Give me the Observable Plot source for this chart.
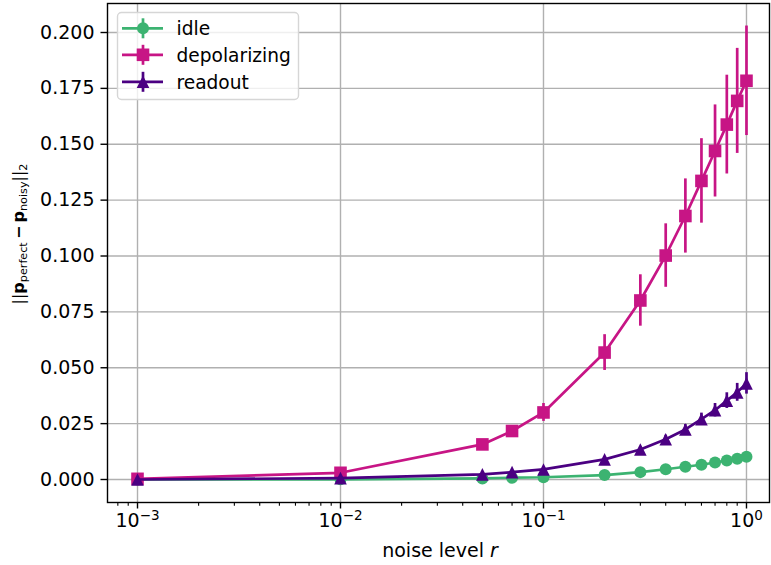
<!DOCTYPE html>
<html>
<head>
<meta charset="utf-8">
<script src="https://cdn.jsdelivr.net/npm/d3@7"></script>
<script src="https://cdn.jsdelivr.net/npm/@observablehq/plot@0.6"></script>
<style>
  body { margin: 0; background: #fff; }
  #chart { width: 771px; height: 565px; }
</style>
</head>
<body>
<div id="chart"></div>
<script>
// ---- data ----
const noiseLevels = [0.001, 0.01, 0.05, 0.07, 0.1, 0.2, 0.3, 0.4, 0.5, 0.6, 0.7, 0.8, 0.9, 1.0];
const seriesNames = ["idle", "depolarizing", "readout"];
const idleMeans = [0.0000, 0.0001, 0.0005, 0.0008, 0.0010, 0.0020, 0.0033, 0.0046, 0.0057, 0.0066, 0.0076, 0.0085, 0.0093, 0.0102];
const idleErrors = [0, 0, 0.0001, 0.0001, 0.0001, 0.0002, 0.0003, 0.0004, 0.0005, 0.0005, 0.0006, 0.0007, 0.0008, 0.0009];
const depolarizingMeans = [0.0003, 0.0030, 0.0157, 0.0217, 0.0300, 0.0568, 0.0801, 0.1002, 0.1179, 0.1336, 0.1470, 0.1588, 0.1694, 0.1784];
const depolarizingErrors = [0.0001, 0.0004, 0.0010, 0.0018, 0.0040, 0.0080, 0.0115, 0.0142, 0.0166, 0.0189, 0.0206, 0.0221, 0.0235, 0.0245];
const readoutMeans = [0.0000, 0.0006, 0.0023, 0.0033, 0.0045, 0.0090, 0.0134, 0.0180, 0.0224, 0.0270, 0.0310, 0.0353, 0.0390, 0.0430];
const readoutErrors = [0, 0.0001, 0.0004, 0.0005, 0.0007, 0.0010, 0.0014, 0.0018, 0.0022, 0.0027, 0.0030, 0.0035, 0.0040, 0.0048];
const xMajorTicks = [0.001, 0.01, 0.1, 1];
const yTicks = [0, 0.025, 0.05, 0.075, 0.1, 0.125, 0.15, 0.175, 0.2];

// ---- symbols (matplotlib-like) ----
const mplSquare = { draw(ctx, size) { const h = Math.sqrt(size / Math.PI); ctx.rect(-h, -h, 2 * h, 2 * h); } };
const mplTriangle = { draw(ctx, size) { const h = Math.sqrt(size / Math.PI); ctx.moveTo(0, -h); ctx.lineTo(h, h); ctx.lineTo(-h, h); ctx.closePath(); } };

const series = [
  { name: seriesNames[0], means: idleMeans, errors: idleErrors, color: "#3cb371", symbol: "circle", r: 6 },
  { name: seriesNames[1], means: depolarizingMeans, errors: depolarizingErrors, color: "#c71585", symbol: mplSquare, r: 6.3 },
  { name: seriesNames[2], means: readoutMeans, errors: readoutErrors, color: "#4b0082", symbol: mplTriangle, r: 6.3 }
];

const minorTicks = [];
for (const base of [0.0001, 0.001, 0.01, 0.1]) for (let k = 2; k <= 9; k++) minorTicks.push(base * k);
const xDomain = [7.115e-4, 1.2983];
const visibleMinor = minorTicks.filter(t => t >= xDomain[0] && t <= xDomain[1]);

const FS = 19;
const lw = 2.7;
const marks = [
  Plot.gridX(xMajorTicks, { stroke: "#b0b0b0", strokeOpacity: 1, strokeWidth: 1.4 }),
  Plot.gridY(yTicks, { stroke: "#b0b0b0", strokeOpacity: 1, strokeWidth: 1.4 })
];
for (const s of series) {
  const rows = noiseLevels.map((x, i) => ({ x, y: s.means[i], e: s.errors[i] }));
  marks.push(Plot.ruleX(rows, { x: "x", y1: d => d.y - d.e, y2: d => d.y + d.e, stroke: s.color, strokeWidth: lw }));
  marks.push(Plot.line(rows, { x: "x", y: "y", stroke: s.color, strokeWidth: lw }));
  marks.push(Plot.dot(rows, { x: "x", y: "y", fill: s.color, symbol: s.symbol, r: s.r }));
}
marks.push(
  Plot.frame({ stroke: "black", strokeWidth: 1.4 }),
  Plot.axisY(yTicks, { tickSize: 6.5, tickPadding: 6.5, tickFormat: d3.format(".3f"), label: null, fontSize: FS, strokeWidth: 1.4 }),
  Plot.axisX(xMajorTicks, { tickSize: 6.5, tickPadding: 4.5, tickFormat: d => "10^" + Math.round(Math.log10(d)), label: null, fontSize: FS, strokeWidth: 1.4 }),
  Plot.axisX(visibleMinor, { tickSize: 3.7, tickFormat: () => "", label: null, strokeWidth: 1.1 })
);

const svg = Plot.plot({
  width: 771,
  height: 565,
  marginLeft: 107,
  marginRight: 2,
  marginTop: 3,
  marginBottom: 63,
  style: { fontFamily: "DejaVu Sans", fontSize: FS + "px", color: "black", background: "white", overflow: "visible" },
  x: { type: "log", domain: xDomain },
  y: { domain: [-0.01029, 0.21298] },
  marks
});
document.getElementById("chart").appendChild(svg);

const root = d3.select(svg);

// superscript tick labels 10^k
root.selectAll("text").each(function () {
  const t = this.textContent;
  if (!/^10\^/.test(t)) return;
  const exp = t.slice(3).replace("-", "\u2212");
  const sel = d3.select(this);
  sel.text("10");
  sel.append("tspan").attr("dy", "-7px").attr("font-size", "13.5px").text(exp);
});

// x label
const xl = root.append("text")
  .attr("x", 440).attr("y", 557)
  .attr("text-anchor", "middle")
  .attr("font-family", "DejaVu Sans").attr("font-size", FS).attr("fill", "black");
xl.append("tspan").text("noise level ");
xl.append("tspan").attr("font-style", "italic").text("r");

// y label
const subFS = 11.2;
const yl = root.append("text")
  .attr("transform", "translate(24,234) rotate(-90)")
  .attr("text-anchor", "middle")
  .attr("font-family", "DejaVu Sans").attr("font-size", 16).attr("fill", "black");
yl.append("tspan").text("||");
yl.append("tspan").attr("font-weight", "bold").text("p");
yl.append("tspan").attr("font-size", subFS).attr("dy", 3).text("perfect");
yl.append("tspan").attr("font-weight", "bold").attr("dy", -3).text("\u2009\u2212\u2009");
yl.append("tspan").attr("font-weight", "bold").text("p");
yl.append("tspan").attr("font-size", subFS).attr("dy", 3).text("noisy");
yl.append("tspan").attr("dy", -3).text("||");
yl.append("tspan").attr("font-size", subFS).attr("dy", 3).text("2");

// legend
const lg = root.append("g");
lg.append("rect").attr("x", 117.5).attr("y", 12.5).attr("width", 181).attr("height", 87).attr("rx", 4)
  .attr("fill", "white").attr("fill-opacity", 0.8).attr("stroke", "#d6d6d6").attr("stroke-width", 1.4);
const rowY = [28.3, 54.8, 81.8];
series.forEach((s, i) => {
  const y = rowY[i];
  lg.append("line").attr("x1", 122).attr("x2", 163).attr("y1", y).attr("y2", y).attr("stroke", s.color).attr("stroke-width", lw);
  lg.append("line").attr("x1", 143).attr("x2", 143).attr("y1", y - 10).attr("y2", y + 10).attr("stroke", s.color).attr("stroke-width", lw);
  const sym = s.symbol === "circle" ? d3.symbolCircle : s.symbol;
  lg.append("path").attr("transform", `translate(143,${y})`).attr("d", d3.symbol(sym, Math.PI * s.r * s.r)()).attr("fill", s.color);
  lg.append("text").attr("x", 176.5).attr("y", y + 6.8).attr("text-anchor", "start")
    .attr("font-family", "DejaVu Sans").attr("font-size", 18.6).attr("fill", "black").text(s.name);
});
</script>
</body>
</html>
